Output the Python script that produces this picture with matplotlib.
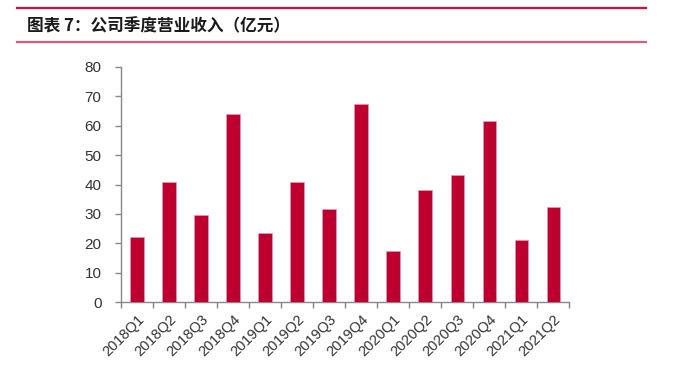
import matplotlib
matplotlib.use("Agg")
import matplotlib.pyplot as plt
from matplotlib.lines import Line2D

quarters = ["2018Q1", "2018Q2", "2018Q3", "2018Q4", "2019Q1", "2019Q2", "2019Q3",
            "2019Q4", "2020Q1", "2020Q2", "2020Q3", "2020Q4", "2021Q1", "2021Q2"]
revenue = [22.3, 40.9, 29.6, 64.0, 23.4, 40.9, 31.8, 67.2, 17.5, 38.2, 43.3, 61.6, 21.1, 32.3]
yticks = [0, 10, 20, 30, 40, 50, 60, 70, 80]
title = "图表 7：公司季度营业收入（亿元）"

plt.rcParams['font.family'] = ['Liberation Sans', 'Noto Sans CJK SC', 'DejaVu Sans']

fig = plt.figure(figsize=(6.8, 3.73), dpi=100)
ax = fig.add_axes([121/680, 1-302.3/373, (569.3-121)/680, (302.3-66.7)/373])

x = list(range(len(quarters)))
ax.bar(x, revenue, width=0.42, color="#BE0030", edgecolor="#E8A0B0", linewidth=0.4, zorder=3)
ax.set_xlim(-0.5, len(quarters)-0.5)
ax.set_ylim(0, 80)
ax.set_yticks(yticks)
ax.set_yticklabels([str(v) for v in yticks], fontsize=11, color="#333333")

ax.set_xticks([i-0.5 for i in range(len(quarters)+1)], minor=False)
ax.set_xticklabels([])
ax.set_xticks(x, minor=True)
ax.set_xticklabels(quarters, minor=True, rotation=45, ha="right", rotation_mode="anchor",
                   fontsize=10.5, color="#333333")
ax.tick_params(axis='x', which='minor', length=0, pad=7)
ax.tick_params(axis='x', which='major', length=4, color="#888888", width=1)
ax.tick_params(axis='y', length=4, color="#888888", width=1, pad=10)

for s in ["top", "right"]:
    ax.spines[s].set_visible(False)
for s in ["left", "bottom"]:
    ax.spines[s].set_color("#888888")
    ax.spines[s].set_linewidth(1)

fig.add_artist(Line2D([17/680, 646/680], [1-8.3/373, 1-8.3/373], color="#D0103A", lw=1.6))
fig.add_artist(Line2D([17/680, 646/680], [1-41.7/373, 1-41.7/373], color="#DC5A7C", lw=1.6))
fig.text(27/680, 1-26/373, title, fontsize=12, fontweight="bold", color="#1a1a1a",
         va="center", ha="left", family=['Noto Sans CJK SC', 'DejaVu Sans'])

fig.savefig("out.png", dpi=100)
